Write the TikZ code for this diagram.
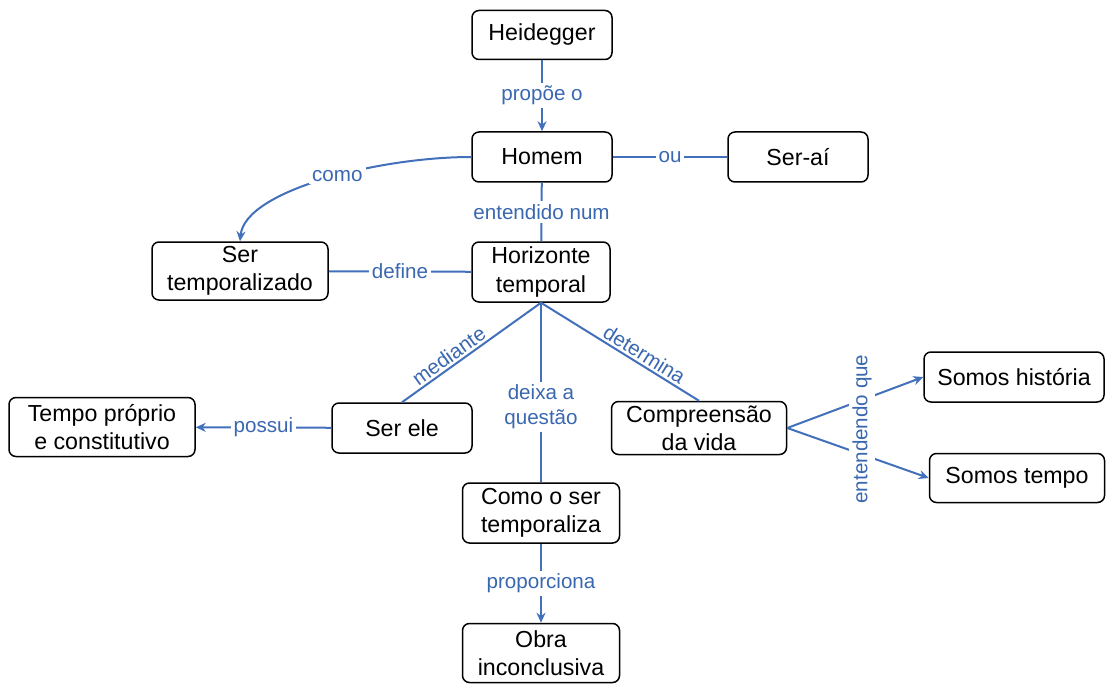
\documentclass[tikz,border=0pt]{standalone}
\usepackage{fontspec}
\setmainfont{Liberation Sans}
\usetikzlibrary{arrows.meta}
\definecolor{lnk}{RGB}{66,112,186}
\definecolor{lbl}{RGB}{58,104,176}
\begin{document}
\begin{tikzpicture}[x=0.5pt,y=-0.5pt,
  box/.style={draw=black,line width=0.75pt,rounded corners=3.5pt,fill=white,
    align=center,inner sep=1pt,font=\fontsize{11.6}{14}\selectfont},
  conn/.style={draw=lnk,line width=1pt},
  arr/.style={conn,-{Stealth[length=5pt,width=4.5pt]}},
  lab/.style={text=lbl,fill=white,inner sep=1.5pt,align=center,
    font=\fontsize{10.3}{12.5}\selectfont},
  slab/.style={text=lbl,inner sep=1pt,font=\fontsize{10.3}{12.5}\selectfont}]
\useasboundingbox (0,0) rectangle (1107,684);
\fill[white] (0,0) rectangle (1107,684);

\node[box,minimum width=70pt,minimum height=24.5pt] (hei) at (542,35) {Heidegger};
\node[box,minimum width=70pt,minimum height=25pt] (hom) at (542,157) {Homem};
\node[box,minimum width=70pt,minimum height=25pt] (serai) at (798,157) {Ser-aí};
\node[box,minimum width=88pt,minimum height=29pt] (st) at (240,271) {Ser\\temporalizado};
\node[box,minimum width=69pt,minimum height=30pt] (hor) at (541,272) {Horizonte\\temporal};
\node[box,minimum width=93pt,minimum height=29.5pt] (tp) at (102,427) {Tempo próprio\\e constitutivo};
\node[box,minimum width=70pt,minimum height=25pt] (se) at (402,428) {Ser ele};
\node[box,minimum width=87.5pt,minimum height=26.5pt] (cv) at (699,428) {Compreensão\\da vida};
\node[box,minimum width=90pt,minimum height=25pt] (sh) at (1014,377) {Somos história};
\node[box,minimum width=87.5pt,minimum height=24.5pt] (stp) at (1017,478) {Somos tempo};
\node[box,minimum width=78.5pt,minimum height=30pt] (cs) at (541,513) {Como o ser\\temporaliza};
\node[box,minimum width=78.5pt,minimum height=29.5pt] (obra) at (541,653) {Obra\\inconclusiva};

\draw[arr] (hei) -- node[lab] {propõe o} (hom);
\draw[conn] (hom) -- node[lab] {ou} (serai);
\draw[arr] (hom.west) .. controls (380,157) and (245,190) .. node[lab,pos=0.45] {como} (st.north);
\draw[conn] (hom) -- node[lab] {entendido num} (hor);
\draw[conn] (hor) -- node[lab] {define} (st);
\draw[conn] (hor.south) -- node[slab,sloped,above,pos=0.62] {mediante} (se.north);
\draw[conn] (hor.south) -- node[lab,pos=0.58] {deixa a\\questão} (cs.north);
\draw[conn] (hor.south) -- node[slab,sloped,above,pos=0.62] {determina} (cv.north);
\draw[arr] (se) -- node[lab] {possui} (tp);
\draw[arr] (cv.east) -- (sh.west);
\draw[arr] (cv.east) -- (stp.west);
\node[lab,rotate=90] (eq) at (862,429) {entendendo que};
\draw[arr] (cs) -- node[lab] {proporciona} (obra);
\end{tikzpicture}
\end{document}
